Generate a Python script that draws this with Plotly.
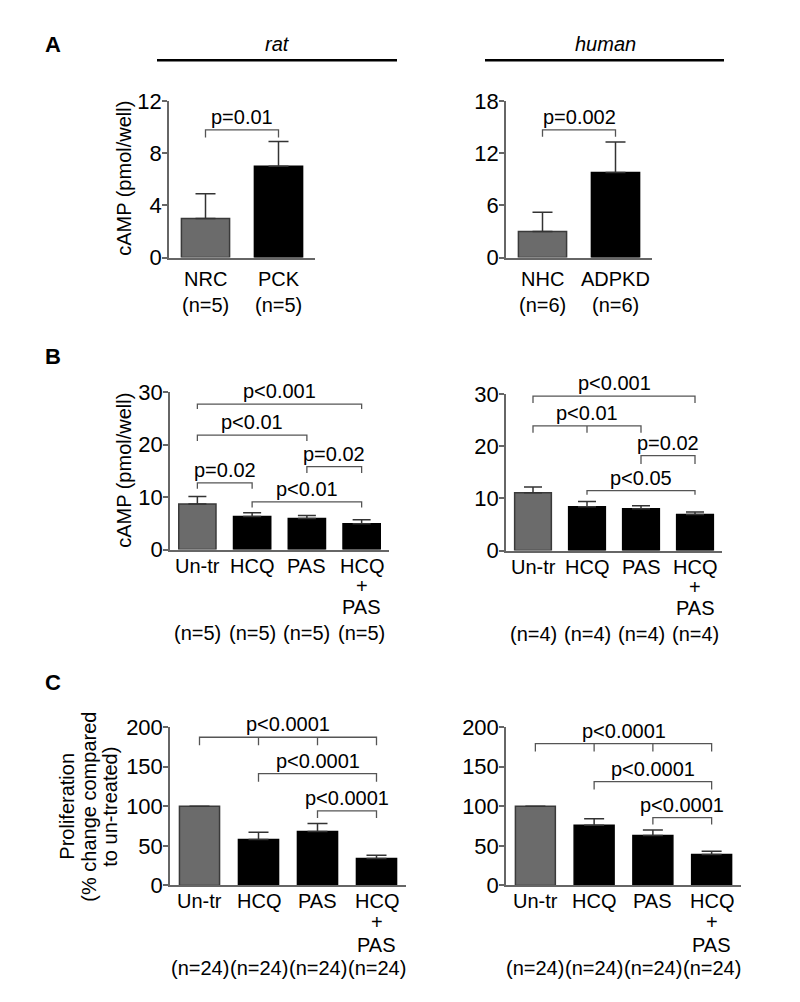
import plotly.graph_objects as go

# The page body has an 8px margin, so the figure is drawn 8px in from the
# window corner; the figure is sized to the window minus those margins.
OFF = 8
WIN_W, WIN_H = 800, 1002
W, H = WIN_W - 2 * OFF, WIN_H - 2 * OFF
SY, CY = 1.0225, 490  # vertical layout scale about a centre line

# ---------------- data ----------------
a_rat_cats = ["NRC", "PCK"]
a_rat_n = ["(n=5)", "(n=5)"]
a_rat_mean = [3.0, 7.0]
a_rat_err = [1.9, 1.9]

a_hum_cats = ["NHC", "ADPKD"]
a_hum_n = ["(n=6)", "(n=6)"]
a_hum_mean = [3.0, 9.8]
a_hum_err = [2.2, 3.5]

treat_labels = [["Un-tr"], ["HCQ"], ["PAS"], ["HCQ", "+", "PAS"]]

b_rat_n = ["(n=5)", "(n=5)", "(n=5)", "(n=5)"]
b_rat_mean = [8.7, 6.3, 5.9, 4.9]
b_rat_err = [1.4, 0.7, 0.6, 0.8]

b_hum_n = ["(n=4)", "(n=4)", "(n=4)", "(n=4)"]
b_hum_mean = [11.1, 8.4, 8.0, 6.9]
b_hum_err = [1.1, 1.0, 0.6, 0.5]

c_rat_n = ["(n=24)", "(n=24)", "(n=24)", "(n=24)"]
c_rat_mean = [100, 58, 68, 34]
c_rat_err = [None, 9, 10, 4]

c_hum_n = ["(n=24)", "(n=24)", "(n=24)", "(n=24)"]
c_hum_mean = [100, 76, 63, 39]
c_hum_err = [None, 8, 7, 4]

# brackets: (left idx, right idx, top y, leg bottom y, label, middle ticks)
a_rat_br = [(0, 1, 9.8, 9.2, "p=0.01", [])]
a_hum_br = [(0, 1, 14.7, 13.9, "p=0.002", [])]
b_rat_br = [
    (0, 3, 27.7, 26.8, "p<0.001", []),
    (0, 2, 21.8, 20.7, "p<0.01", []),
    (2, 3, 15.8, 14.6, "p=0.02", []),
    (0, 1, 12.7, 11.6, "p=0.02", []),
    (1, 3, 9.1, 8.0, "p<0.01", []),
]
b_hum_br = [
    (0, 3, 29.6, 28.3, "p<0.001", []),
    (0, 2, 23.9, 22.6, "p<0.01", [1]),
    (2, 3, 18.2, 16.6, "p=0.02", []),
    (1, 3, 11.5, 10.7, "p<0.05", []),
]
c_rat_br = [
    (0, 3, 187, 177, "p<0.0001", [1, 2]),
    (1, 3, 141, 131, "p<0.0001", []),
    (2, 3, 94, 85, "p<0.0001", []),
]
c_hum_br = [
    (0, 3, 179, 169, "p<0.0001", [1, 2]),
    (1, 3, 131, 121, "p<0.0001", []),
    (2, 3, 85.5, 77, "p<0.0001", []),
]

# ---------------- style ----------------
FONT = "Liberation Sans, Arial, sans-serif"
TXT = "#000000"
AXC = "#666666"
GRAY = "#6b6b6b"
FS = 20
TFS = 22


def fx(px):
    return (px - OFF) / W


def fy(py):
    wy = CY + (py - CY) * SY
    return 1 - (wy - OFF) / H


panels = [
    dict(x0=169, x1=315, ytop=100, ybot=257, ymax=12, dtick=4,
         labels=[[c] for c in a_rat_cats], n=a_rat_n, mean=a_rat_mean, err=a_rat_err,
         br=a_rat_br, bw=0.66, cap=10, offs=[21], noff=46),
    dict(x0=506, x1=652, ytop=100, ybot=257, ymax=18, dtick=6,
         labels=[[c] for c in a_hum_cats], n=a_hum_n, mean=a_hum_mean, err=a_hum_err,
         br=a_hum_br, bw=0.66, cap=10, offs=[21], noff=46),
    dict(x0=170, x1=389, ytop=392, ybot=550, ymax=30, dtick=10,
         labels=treat_labels, n=b_rat_n, mean=b_rat_mean, err=b_rat_err,
         br=b_rat_br, bw=0.68, cap=9, offs=[16, 36, 56], noff=82),
    dict(x0=506, x1=722, ytop=394, ybot=551, ymax=30, dtick=10,
         labels=treat_labels, n=b_hum_n, mean=b_hum_mean, err=b_hum_err,
         br=b_hum_br, bw=0.68, cap=9, offs=[16, 36, 56], noff=82),
    dict(x0=170, x1=406, ytop=728, ybot=887, ymax=200, dtick=50,
         labels=treat_labels, n=c_rat_n, mean=c_rat_mean, err=c_rat_err,
         br=c_rat_br, bw=0.68, cap=10, offs=[15, 36, 58], noff=81),
    dict(x0=506, x1=741, ytop=728, ybot=887, ymax=200, dtick=50,
         labels=treat_labels, n=c_hum_n, mean=c_hum_mean, err=c_hum_err,
         br=c_hum_br, bw=0.68, cap=10, offs=[15, 36, 58], noff=81),
]

fig = go.Figure()
annotations = []
layout_axes = {}

for i, p in enumerate(panels, start=1):
    xa = "x" if i == 1 else f"x{i}"
    ya = "y" if i == 1 else f"y{i}"
    ncat = len(p["mean"])
    xs = list(range(ncat))
    colors = [GRAY] + ["#000000"] * (ncat - 1)
    lines = ["#3a3a3a"] + ["#000000"] * (ncat - 1)
    err = [e if e is not None else float("nan") for e in p["err"]]
    fig.add_trace(go.Bar(
        x=xs, y=p["mean"], width=p["bw"], xaxis=xa, yaxis=ya,
        marker=dict(color=colors, line=dict(color=lines, width=1.5)),
        error_y=dict(type="data", array=err, arrayminus=[0] * ncat, symmetric=False,
                     color="#333333", thickness=1.5, width=p["cap"]),
        showlegend=False, hoverinfo="skip",
    ))
    # brackets
    bx, by = [], []
    for (l, r, top, bot, lab, mids) in p["br"]:
        bx += [l, l, r, r, None]
        by += [bot, top, top, bot, None]
        for m in mids:
            bx += [m, m, None]
            by += [top, bot, None]
        annotations.append(dict(x=(l + r) / 2, y=top, xref=xa, yref=ya, text=lab,
                                showarrow=False, yanchor="middle", yshift=13,
                                font=dict(size=FS, color=TXT, family=FONT)))
    fig.add_trace(go.Scatter(x=bx, y=by, xaxis=xa, yaxis=ya, mode="lines",
                             line=dict(color="#555555", width=1.3),
                             showlegend=False, hoverinfo="skip", cliponaxis=False))
    # category labels
    for j, lab_lines in enumerate(p["labels"]):
        for k, t in enumerate(lab_lines):
            annotations.append(dict(x=j, y=0, xref=xa, yref=f"{ya} domain", text=t,
                                    showarrow=False, yanchor="middle",
                                    yshift=-p["offs"][k] * SY,
                                    font=dict(size=FS, color=TXT, family=FONT)))
        annotations.append(dict(x=j, y=0, xref=xa, yref=f"{ya} domain", text=p["n"][j],
                                showarrow=False, yanchor="middle", yshift=-p["noff"] * SY,
                                font=dict(size=FS, color=TXT, family=FONT)))
    xkey = "xaxis" if i == 1 else f"xaxis{i}"
    ykey = "yaxis" if i == 1 else f"yaxis{i}"
    layout_axes[xkey] = dict(domain=[fx(p["x0"]), fx(p["x1"])], range=[-0.5, ncat - 0.5],
                             anchor=ya, showline=True, linecolor=AXC, linewidth=1.5,
                             ticks="", showticklabels=False, showgrid=False, zeroline=False,
                             fixedrange=True)
    layout_axes[ykey] = dict(domain=[fy(p["ybot"]), fy(p["ytop"])], range=[0, p["ymax"]],
                             dtick=p["dtick"], tick0=0, anchor=xa, showline=True,
                             linecolor=AXC, linewidth=1.5, ticks="outside", ticklen=5,
                             tickwidth=1.5, tickcolor=AXC, showgrid=False, zeroline=False,
                             ticklabelstandoff=-4,
                             tickfont=dict(size=TFS, color=TXT, family=FONT), fixedrange=True)

# y titles
for (xpx, ypx, txt) in [(124, 178, "cAMP (pmol/well)"), (124, 471, "cAMP (pmol/well)"),
                        (67, 808, "Proliferation"), (89, 808, "(% change compared"),
                        (110, 808, "to un-treated)")]:
    annotations.append(dict(x=fx(xpx), y=fy(ypx), xref="paper", yref="paper", text=txt,
                            textangle=-90, showarrow=False, xanchor="center", yanchor="middle",
                            font=dict(size=FS, color=TXT, family=FONT)))

# panel letters
for (xpx, ypx, txt) in [(53, 43, "A"), (53, 356, "B"), (53, 683, "C")]:
    annotations.append(dict(x=fx(xpx), y=fy(ypx), xref="paper", yref="paper", text=f"<b>{txt}</b>",
                            showarrow=False, xanchor="center", yanchor="middle",
                            font=dict(size=22, color=TXT, family=FONT)))

# species headers
shapes = []
for (x0, x1, xc, txt) in [(157, 397, 277, "rat"), (485, 724, 605, "human")]:
    annotations.append(dict(x=fx(xc), y=fy(43), xref="paper", yref="paper", text=f"<i>{txt}</i>",
                            showarrow=False, xanchor="center", yanchor="middle",
                            font=dict(size=FS, color=TXT, family=FONT)))
    shapes.append(dict(type="line", xref="paper", yref="paper", x0=fx(x0), x1=fx(x1),
                       y0=fy(59), y1=fy(59), line=dict(color="#000000", width=2.5)))

fig.update_layout(
    width=W, height=H, margin=dict(l=0, r=0, t=0, b=0),
    paper_bgcolor="white", plot_bgcolor="white",
    annotations=annotations, shapes=shapes, showlegend=False,
    font=dict(family=FONT, color=TXT), **layout_axes,
)

fig.write_html("out.html")
